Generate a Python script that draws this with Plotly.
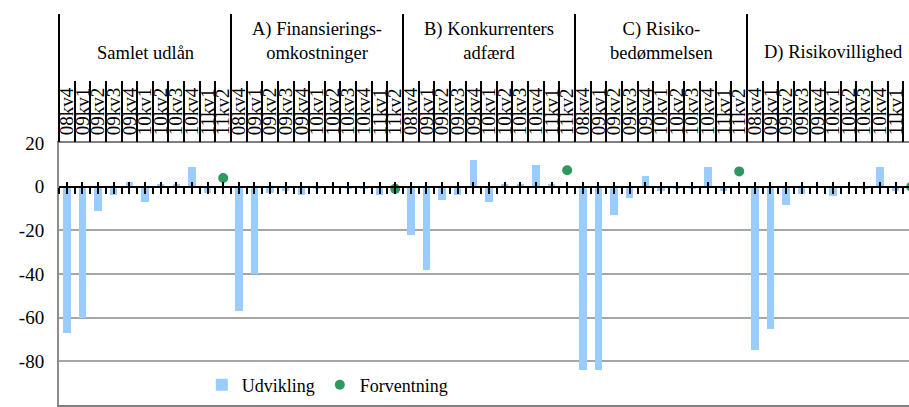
import plotly.graph_objects as go

# Survey groups and quarters
groups = ["Samlet udlån", "A) Finansierings-<br>omkostninger", "B) Konkurrenters<br>adfærd",
          "C) Risiko-<br>bedømmelsen", "D) Risikovillighed"]
quarters = ["08kv4", "09kv1", "09kv2", "09kv3", "09kv4", "10kv1", "10kv2",
            "10kv3", "10kv4", "11kv1", "11kv2"]

# Net balance per group: observed development (08kv4-11kv1) and expectation (11kv2)
udvikling_samlet = [-67, -60, -11, -4, 2, -7, 1, 1, 9, -3]
udvikling_a = [-57, -40, -3, -2, -4, -1, 0, -1, -1, -4]
udvikling_b = [-22, -38, -6, -4, 12, -7, 1, 1, 10, 1]
udvikling_c = [-84, -84, -13, -5, 5, -2, -1, -1, 9, -2]
udvikling_d = [-75, -65, -8.5, -3.5, 0, -4.5, 0, -1, 9, -2]
forventning = [4, -1, 7.5, 7, 0]

y_tickvals = [20, 0, -20, -40, -60, -80, -100]
y_ticktext = ["20", "0", "-20", "-40", "-60", "-80", "-100"]

series = [udvikling_samlet, udvikling_a, udvikling_b, udvikling_c, udvikling_d]
n_q = len(quarters)

bar_x, bar_y, dot_x = [], [], []
for g, vals in enumerate(series):
    for q, v in enumerate(vals):
        bar_x.append(g * n_q + q)
        bar_y.append(v)
    dot_x.append(g * n_q + n_q - 1)

all_centers = list(range(len(groups) * n_q))
all_labels = quarters * len(groups)
boundaries = [c - 0.5 for c in all_centers] + [all_centers[-1] + 0.5]
group_edges = [g * n_q - 0.5 for g in range(len(groups))]
half_steps = sorted(set(all_centers + boundaries))

FONT = "Times New Roman, Liberation Serif, serif"
W, H = 909, 407
L, R, T, B = 59, 0, 143, 2
cat_px = 172 / n_q
x_range = [-0.5, -0.5 + (W - L - R) / cat_px]
y_range = [-100, 20]
zero_pos = (0 - y_range[0]) / (y_range[1] - y_range[0])

fig = go.Figure()
fig.add_trace(go.Bar(
    x=bar_x, y=bar_y, width=0.48, name="Udvikling",
    marker=dict(color="#99CCFF", line=dict(width=0)),
))
fig.add_trace(go.Scatter(
    x=dot_x, y=forventning, mode="markers", name="Forventning",
    marker=dict(color="#2E995F", size=10),
))

# Helper traces (no visible marks) that register the overlay axes used for
# the label grid and the tick marks along the zero line
for ax, xs in (("x2", boundaries), ("x3", group_edges), ("x4", half_steps), ("x5", all_centers)):
    fig.add_trace(go.Scatter(
        x=xs, y=[0] * len(xs), xaxis=ax, yaxis="y", mode="none",
        showlegend=False, hoverinfo="skip",
    ))

common = dict(range=x_range, showgrid=False, zeroline=False, fixedrange=True)

fig.update_layout(
    width=W, height=H,
    margin=dict(l=L, r=R, t=T, b=B, pad=0),
    paper_bgcolor="white", plot_bgcolor="white",
    font=dict(family=FONT, size=18, color="black"),
    bargap=0,
    showlegend=True,
    legend=dict(orientation="h", x=0.168, y=(405 - 385) / (H - T - B), xanchor="left",
                yanchor="middle", font=dict(size=18, family=FONT),
                bgcolor="rgba(0,0,0,0)", itemwidth=30, tracegroupgap=0),
    xaxis=dict(
        **common, side="top", anchor="y",
        tickmode="array", tickvals=all_centers, ticktext=all_labels,
        tickangle=-90, ticks="", ticklabelstandoff=2,
        tickfont=dict(family=FONT, size=19, color="black"),
        showline=True, linecolor="#7f7f7f", linewidth=2, mirror=True,
    ),
    xaxis2=dict(
        **common, overlaying="x", side="top", anchor="y",
        tickmode="array", tickvals=boundaries, ticks="outside", ticklen=61,
        tickwidth=1.5, tickcolor="black", showticklabels=False, showline=False,
    ),
    xaxis3=dict(
        **common, overlaying="x", side="top", anchor="y",
        tickmode="array", tickvals=group_edges, ticks="outside", ticklen=128,
        tickwidth=2, tickcolor="black", showticklabels=False, showline=False,
    ),
    xaxis4=dict(
        **common, overlaying="x", side="bottom", anchor="free", position=zero_pos,
        tickmode="array", tickvals=half_steps, ticks="outside", ticklen=6,
        tickwidth=2, tickcolor="black", showticklabels=False,
        showline=True, linecolor="black", linewidth=2,
    ),
    xaxis5=dict(
        **common, overlaying="x", side="bottom", anchor="free", position=zero_pos,
        tickmode="array", tickvals=all_centers, ticks="inside", ticklen=5,
        tickwidth=2, tickcolor="black", showticklabels=False, showline=False,
    ),
    yaxis=dict(
        range=y_range, tickmode="array", tickvals=y_tickvals, ticktext=y_ticktext,
        showgrid=True, gridcolor="#a6a6a6", gridwidth=1.5, zeroline=False,
        showline=True, linecolor="#8c8c8c", linewidth=2, ticks="",
        ticklabelstandoff=9, tickfont=dict(family=FONT, size=19, color="black"),
        fixedrange=True,
    ),
)

for g, name in enumerate(groups):
    fig.add_annotation(
        x=g * n_q + (n_q - 1) / 2, xref="x", yref="paper",
        y=1 + (T - 65) / (H - T - B), yanchor="bottom", xanchor="center",
        text=name, showarrow=False, align="center",
        font=dict(family=FONT, size=18.5, color="black"),
    )

fig.write_html("out.html")
